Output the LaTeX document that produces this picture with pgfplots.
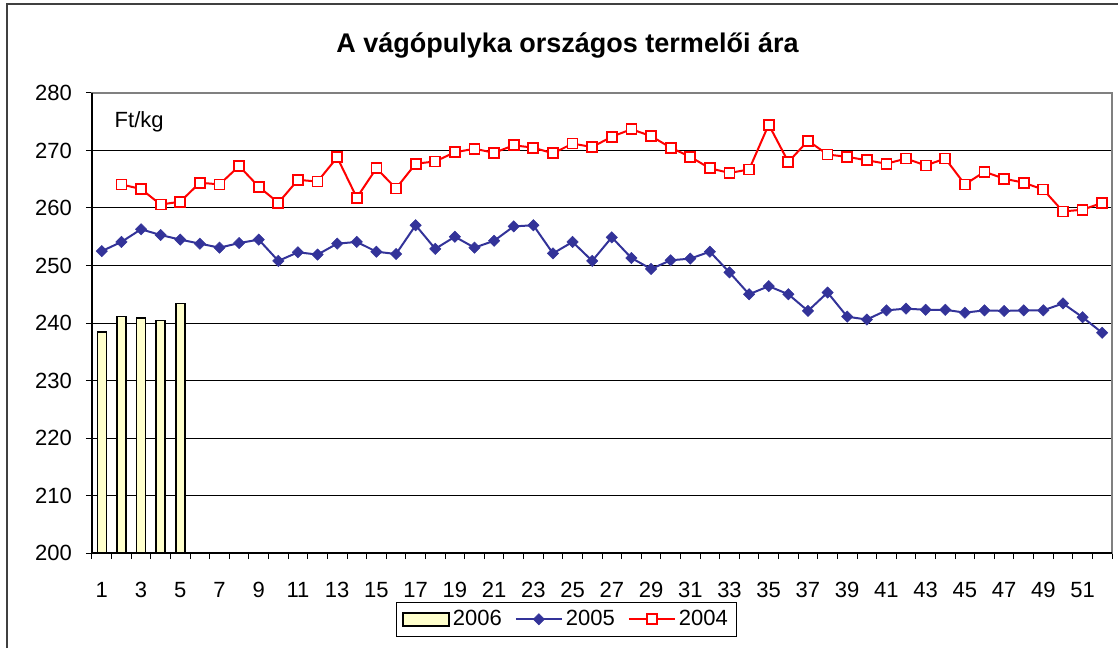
\documentclass[border=0pt]{standalone}
\usepackage{pgfplots}
\pgfplotsset{compat=1.18}
\usepackage{fontspec}
\setmainfont{Liberation Sans}
\definecolor{navy}{HTML}{333399}
\definecolor{barfill}{HTML}{FFFFCC}
\definecolor{framegray}{HTML}{404040}
\definecolor{bordergray}{HTML}{808080}
\pgfplotsset{
  widelegend/.style={legend image code/.code={\draw[mark repeat=2,mark phase=2,##1] plot coordinates {(0pt,0pt) (23pt,0pt) (46pt,0pt)};}},
  barlegend/.style={legend image code/.code={\draw[fill=barfill, draw=black, line width=1.5pt] (0pt,-6.5pt) rectangle (46pt,6.5pt);}}
}
\begin{document}
\fontsize{22pt}{26pt}\selectfont
\begin{tikzpicture}[x=1pt,y=1pt]
\useasboundingbox (0,0) rectangle (1118,648);
\draw[color=framegray, line width=2pt] (7,0) -- (7,644) -- (1118,644);
\node[anchor=base, inner sep=0pt, font=\fontsize{27pt}{30pt}\selectfont\bfseries] at (567.5,595.3) {A vágópulyka országos termelői ára};
\begin{axis}[
  name=ax,
  at={(92pt,95pt)}, anchor=south west,
  width=1020pt, height=460pt, scale only axis,
  xmin=0.5, xmax=52.5, ymin=200, ymax=280,
  ytick={200,210,...,280},
  xtick={1,3,...,51},
  minor xtick={0.5,1.5,...,52.5},
  tick align=outside,
  xtick pos=bottom, ytick pos=left,
  major tick length=6pt, minor tick length=6pt,
  major x tick style={draw=none},
  minor x tick style={black, line width=1pt},
  major y tick style={black, line width=1pt},
  axis line style={draw=bordergray, line width=1.5pt},
  ymajorgrids,
  major y grid style={black, line width=1pt},
  /pgf/number format/assume math mode=true,
  tick label style={font=\fontsize{22pt}{26pt}\selectfont},
  yticklabel style={anchor=east, inner sep=0pt, xshift=-14pt},
  xticklabel style={anchor=base, inner sep=0pt, yshift=-38.7pt},
  legend columns=3,
  legend cell align=left,
  legend style={at={(axis description cs:0.298,-0.1065)}, anchor=north west,
    draw=black, line width=1pt, font=\fontsize{22pt}{26pt}\selectfont,
    inner xsep=6pt, inner ysep=3.5pt,
    nodes={inner xsep=3pt, inner ysep=4pt},
    /tikz/every even column/.append style={column sep=10pt}},
]
\addplot[ybar, bar width=9pt, bar shift=0pt, fill=barfill, draw=black, line width=1.5pt, barlegend]
  coordinates {(1,238.4) (2,241.1) (3,240.9) (4,240.4) (5,243.4)};
\addlegendentry{2006}
\addplot[color=navy, line width=2pt, mark=square*, mark size=4pt,
  mark options={rotate=45, fill=navy, draw=navy, line width=0.5pt, solid}, widelegend]
  coordinates {
  (1,252.5) (2,254.1) (3,256.3) (4,255.3) (5,254.5) (6,253.8) (7,253.1) (8,253.9) (9,254.5) (10,250.8)
  (11,252.3) (12,251.9) (13,253.8) (14,254.1) (15,252.4) (16,252.0) (17,257.0) (18,252.9) (19,255.0) (20,253.1)
  (21,254.3) (22,256.8) (23,257.0) (24,252.1) (25,254.1) (26,250.8) (27,254.9) (28,251.3) (29,249.4) (30,250.9)
  (31,251.2) (32,252.4) (33,248.8) (34,245.0) (35,246.4) (36,245.0) (37,242.1) (38,245.3) (39,241.1) (40,240.6)
  (41,242.2) (42,242.5) (43,242.3) (44,242.3) (45,241.8) (46,242.2) (47,242.1) (48,242.2) (49,242.2) (50,243.4)
  (51,241.0) (52,238.3)};
\addlegendentry{2005}
\addplot[color=red, line width=2pt, mark=square*, mark size=5pt,
  mark options={fill=white, draw=red, line width=1.8pt, solid}, widelegend]
  coordinates {
  (2,264.1) (3,263.3) (4,260.6) (5,261.1) (6,264.4) (7,264.1) (8,267.3) (9,263.7) (10,260.9)
  (11,264.9) (12,264.6) (13,268.8) (14,261.8) (15,266.9) (16,263.4) (17,267.7) (18,268.1) (19,269.7) (20,270.3)
  (21,269.6) (22,270.9) (23,270.5) (24,269.5) (25,271.2) (26,270.6) (27,272.4) (28,273.7) (29,272.5) (30,270.5)
  (31,268.9) (32,266.9) (33,266.1) (34,266.7) (35,274.5) (36,268.0) (37,271.7) (38,269.3) (39,268.9) (40,268.3)
  (41,267.7) (42,268.6) (43,267.4) (44,268.6) (45,264.1) (46,266.3) (47,265.1) (48,264.4) (49,263.2) (50,259.4)
  (51,259.7) (52,260.9)};
\addlegendentry{2004}
\end{axis}
\draw[black, line width=1.5pt] (ax.north west) -- (ax.south west) -- (ax.south east);
\node[anchor=base west, inner sep=0pt] at (114.5,520) {Ft/kg};
\end{tikzpicture}
\end{document}
